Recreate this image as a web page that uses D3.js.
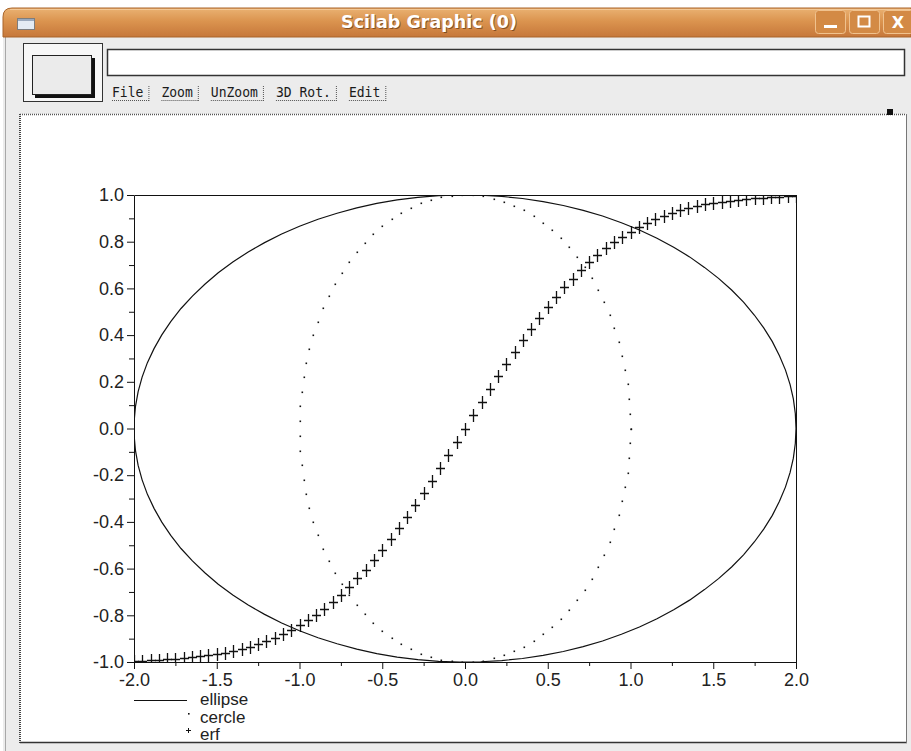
<!DOCTYPE html>
<html>
<head>
<meta charset="utf-8">
<script src="https://cdn.jsdelivr.net/npm/d3@7"></script>
<style>
body { margin: 0; background: #fff; }
svg { display: block; }
</style>
</head>
<body>
<div class="canvas"></div>
<script>
// data
const cercleX = [1.000, 0.998, 0.992, 0.982, 0.968, 0.950, 0.928, 0.903, 0.874, 0.841,
  0.805, 0.766, 0.724, 0.679, 0.631, 0.580, 0.527, 0.472, 0.415, 0.357,
  0.297, 0.236, 0.174, 0.111, 0.048, -0.016, -0.079, -0.142, -0.205, -0.266,
  -0.327, -0.386, -0.444, -0.500, -0.554, -0.606, -0.655, -0.701, -0.745, -0.786,
  -0.824, -0.858, -0.889, -0.916, -0.940, -0.959, -0.975, -0.987, -0.995, -0.999,
  -0.999, -0.995, -0.987, -0.975, -0.959, -0.940, -0.916, -0.889, -0.858, -0.824,
  -0.786, -0.745, -0.701, -0.655, -0.606, -0.554, -0.500, -0.444, -0.386, -0.327,
  -0.266, -0.205, -0.142, -0.079, -0.016, 0.048, 0.111, 0.174, 0.236, 0.297,
  0.357, 0.415, 0.472, 0.527, 0.580, 0.631, 0.679, 0.724, 0.766, 0.805,
  0.841, 0.874, 0.903, 0.928, 0.950, 0.968, 0.982, 0.992, 0.998, 1.000];
const cercleY = [0.000, 0.063, 0.127, 0.189, 0.251, 0.312, 0.372, 0.430, 0.486, 0.541,
  0.593, 0.643, 0.690, 0.735, 0.776, 0.815, 0.850, 0.881, 0.910, 0.934,
  0.955, 0.972, 0.985, 0.994, 0.999, 1.000, 0.997, 0.990, 0.979, 0.964,
  0.945, 0.922, 0.896, 0.866, 0.833, 0.796, 0.756, 0.713, 0.667, 0.618,
  0.567, 0.514, 0.458, 0.401, 0.342, 0.282, 0.220, 0.158, 0.095, 0.032,
  -0.032, -0.095, -0.158, -0.220, -0.282, -0.342, -0.401, -0.458, -0.514, -0.567,
  -0.618, -0.667, -0.713, -0.756, -0.796, -0.833, -0.866, -0.896, -0.922, -0.945,
  -0.964, -0.979, -0.990, -0.997, -1.000, -0.999, -0.994, -0.985, -0.972, -0.955,
  -0.934, -0.910, -0.881, -0.850, -0.815, -0.776, -0.735, -0.690, -0.643, -0.593,
  -0.541, -0.486, -0.430, -0.372, -0.312, -0.251, -0.189, -0.127, -0.063, 0.000];
const ellipseX = [2.000, 1.996, 1.984, 1.964, 1.936, 1.900, 1.857, 1.806, 1.748, 1.683,
  1.611, 1.532, 1.447, 1.357, 1.261, 1.160, 1.054, 0.945, 0.831, 0.714,
  0.594, 0.472, 0.347, 0.222, 0.095, -0.032, -0.159, -0.285, -0.410, -0.533,
  -0.654, -0.773, -0.888, -1.000, -1.108, -1.211, -1.310, -1.403, -1.491, -1.572,
  -1.647, -1.716, -1.778, -1.832, -1.879, -1.919, -1.951, -1.975, -1.991, -1.999,
  -1.999, -1.991, -1.975, -1.951, -1.919, -1.879, -1.832, -1.778, -1.716, -1.647,
  -1.572, -1.491, -1.403, -1.310, -1.211, -1.108, -1.000, -0.888, -0.773, -0.654,
  -0.533, -0.410, -0.285, -0.159, -0.032, 0.095, 0.222, 0.347, 0.472, 0.594,
  0.714, 0.831, 0.945, 1.054, 1.160, 1.261, 1.357, 1.447, 1.532, 1.611,
  1.683, 1.748, 1.806, 1.857, 1.900, 1.936, 1.964, 1.984, 1.996, 2.000];
const ellipseY = cercleY;
const erfX = [-2.00, -1.95, -1.90, -1.85, -1.80, -1.75, -1.70, -1.65, -1.60, -1.55,
  -1.50, -1.45, -1.40, -1.35, -1.30, -1.25, -1.20, -1.15, -1.10, -1.05,
  -1.00, -0.95, -0.90, -0.85, -0.80, -0.75, -0.70, -0.65, -0.60, -0.55,
  -0.50, -0.45, -0.40, -0.35, -0.30, -0.25, -0.20, -0.15, -0.10, -0.05,
  0.00, 0.05, 0.10, 0.15, 0.20, 0.25, 0.30, 0.35, 0.40, 0.45,
  0.50, 0.55, 0.60, 0.65, 0.70, 0.75, 0.80, 0.85, 0.90, 0.95,
  1.00, 1.05, 1.10, 1.15, 1.20, 1.25, 1.30, 1.35, 1.40, 1.45,
  1.50, 1.55, 1.60, 1.65, 1.70, 1.75, 1.80, 1.85, 1.90, 1.95, 2.00];
const erfY = [-0.995, -0.994, -0.993, -0.991, -0.989, -0.987, -0.984, -0.980, -0.976, -0.972,
  -0.966, -0.960, -0.952, -0.944, -0.934, -0.923, -0.910, -0.896, -0.880, -0.862,
  -0.843, -0.821, -0.797, -0.771, -0.742, -0.711, -0.678, -0.642, -0.604, -0.563,
  -0.520, -0.475, -0.428, -0.379, -0.329, -0.276, -0.223, -0.168, -0.112, -0.056,
  0.000, 0.056, 0.112, 0.168, 0.223, 0.276, 0.329, 0.379, 0.428, 0.475,
  0.520, 0.563, 0.604, 0.642, 0.678, 0.711, 0.742, 0.771, 0.797, 0.821,
  0.843, 0.862, 0.880, 0.896, 0.910, 0.923, 0.934, 0.944, 0.952, 0.960,
  0.966, 0.972, 0.976, 0.980, 0.984, 0.987, 0.989, 0.991, 0.993, 0.994, 0.995];

const xTicks = [-2, -1.5, -1, -0.5, 0, 0.5, 1, 1.5, 2];
const xMinor = [-1.75, -1.25, -0.75, -0.25, 0.25, 0.75, 1.25, 1.75];
const yTicks = [-1, -0.8, -0.6, -0.4, -0.2, 0, 0.2, 0.4, 0.6, 0.8, 1];
const yMinor = [-0.9, -0.7, -0.5, -0.3, -0.1, 0.1, 0.3, 0.5, 0.7, 0.9];
const legendLabels = ['ellipse', 'cercle', 'erf'];
const menuLabels = ['File', 'Zoom', 'UnZoom', '3D Rot.', 'Edit'];
const windowTitle = 'Scilab Graphic (0)';

const svg = d3.select('.canvas').append('svg')
    .attr('width', 911)
    .attr('height', 751);

const defs = svg.append('defs');
const grad = defs.append('linearGradient')
    .attr('id', 'titlebar')
    .attr('x1', 0).attr('y1', 0).attr('x2', 0).attr('y2', 1);
grad.append('stop').attr('offset', '0%').attr('stop-color', '#eab273');
grad.append('stop').attr('offset', '45%').attr('stop-color', '#db944f');
grad.append('stop').attr('offset', '100%').attr('stop-color', '#c6773a');

defs.append('clipPath').attr('id', 'plotclip')
  .append('rect')
    .attr('x', 134).attr('y', 195)
    .attr('width', 663).attr('height', 468);

// ---- window frame ----
svg.append('rect')
    .attr('x', 3).attr('y', 36)
    .attr('width', 908).attr('height', 715)
    .attr('fill', '#ececec');
svg.append('line')
    .attr('x1', 5.5).attr('y1', 37).attr('x2', 5.5).attr('y2', 751)
    .attr('stroke', '#a8a8a8');

svg.append('path')
    .attr('d', 'M3,37V17Q3,8 12,8H911V37Z')
    .attr('fill', 'url(#titlebar)')
    .attr('stroke', '#a9652b')
    .attr('stroke-width', 1);
svg.append('line')
    .attr('x1', 10).attr('y1', 9.5).attr('x2', 911).attr('y2', 9.5)
    .attr('stroke', '#f3c896');

// window icon
svg.append('rect')
    .attr('x', 17.5).attr('y', 18.5).attr('width', 17).attr('height', 11)
    .attr('fill', '#e4ebf3').attr('stroke', '#7d7d7d');
svg.append('rect')
    .attr('x', 18).attr('y', 19).attr('width', 16).attr('height', 2)
    .attr('fill', '#9aa9bd');

svg.append('text')
    .attr('x', 430).attr('y', 29)
    .attr('text-anchor', 'middle')
    .attr('fill', '#5e3310')
    .attr('opacity', 0.65)
    .style('font-family', 'DejaVu Sans')
    .style('font-size', '17.5px')
    .style('font-weight', 'bold')
    .text(windowTitle);
svg.append('text')
    .attr('x', 429).attr('y', 28)
    .attr('text-anchor', 'middle')
    .attr('fill', '#ffffff')
    .style('font-family', 'DejaVu Sans')
    .style('font-size', '17.5px')
    .style('font-weight', 'bold')
    .text(windowTitle);

// min / max / close buttons
const btns = [815, 849, 883];
btns.forEach(function (bx) {
  svg.append('rect')
      .attr('x', bx + 0.5).attr('y', 10.5)
      .attr('width', 30).attr('height', 23)
      .attr('rx', 3)
      .attr('fill', '#d38a45')
      .attr('stroke', '#f0c28e');
});
svg.append('rect')
    .attr('x', 824).attr('y', 25).attr('width', 13).attr('height', 3)
    .attr('fill', '#fff');
svg.append('rect')
    .attr('x', 858.5).attr('y', 16.5).attr('width', 11).attr('height', 10)
    .attr('fill', 'none').attr('stroke', '#fff').attr('stroke-width', 2);
svg.append('text')
    .attr('x', 898).attr('y', 28)
    .attr('text-anchor', 'middle')
    .attr('fill', '#fff')
    .style('font-family', 'DejaVu Sans')
    .style('font-size', '16px')
    .style('font-weight', 'bold')
    .text('X');

// ---- toolbar ----
svg.append('rect')
    .attr('x', 23.5).attr('y', 43.5).attr('width', 79).attr('height', 58)
    .attr('fill', '#f7f7f7').attr('stroke', '#333');
svg.append('rect')
    .attr('x', 35).attr('y', 58).attr('width', 60).attr('height', 40)
    .attr('fill', '#111');
svg.append('rect')
    .attr('x', 32.5).attr('y', 55.5).attr('width', 59).attr('height', 39)
    .attr('fill', '#ebebeb').attr('stroke', '#222');
svg.append('rect')
    .attr('x', 107.5).attr('y', 49.5).attr('width', 797).attr('height', 26)
    .attr('fill', '#fff').attr('stroke', '#333').attr('stroke-width', 1.5);

let mx = 112;
menuLabels.forEach(function (m) {
  const t = svg.append('text')
      .attr('transform', 'translate(' + mx + ',97) scale(0.9,1)')
      .attr('fill', '#1a1a1a')
      .style('font-family', 'DejaVu Sans Mono')
      .style('font-size', '14.5px')
      .text(m);
  const w = t.node().getComputedTextLength() * 0.9;
  svg.append('line')
      .attr('x1', mx).attr('y1', 100.5).attr('x2', mx + w + 6).attr('y2', 100.5)
      .attr('stroke', '#555').attr('stroke-dasharray', '1,1');
  svg.append('line')
      .attr('x1', mx + w + 5.5).attr('y1', 86).attr('x2', mx + w + 5.5).attr('y2', 101)
      .attr('stroke', '#555').attr('stroke-dasharray', '1,1');
  mx += w + 18;
});

// ---- graphic canvas ----
svg.append('rect')
    .attr('x', 20).attr('y', 114).attr('width', 886).attr('height', 629)
    .attr('fill', '#fff');
svg.append('line')
    .attr('x1', 20).attr('y1', 114.5).attr('x2', 906).attr('y2', 114.5)
    .attr('stroke', '#555').attr('stroke-width', 1.5).attr('stroke-dasharray', '1,1');
svg.append('line')
    .attr('x1', 20).attr('y1', 114).attr('x2', 20).attr('y2', 743)
    .attr('stroke', '#444').attr('stroke-width', 2).attr('stroke-dasharray', '1,1');
svg.append('line')
    .attr('x1', 20).attr('y1', 742.5).attr('x2', 907).attr('y2', 742.5)
    .attr('stroke', '#333').attr('stroke-width', 1.5);
svg.append('line')
    .attr('x1', 906.5).attr('y1', 114).attr('x2', 906.5).attr('y2', 743)
    .attr('stroke', '#777');
svg.append('rect')
    .attr('x', 887).attr('y', 109).attr('width', 6).attr('height', 6)
    .attr('fill', '#111');

// ---- plot ----
const x = d3.scaleLinear().domain([-2, 2]).range([134, 796]);
const y = d3.scaleLinear().domain([-1, 1]).range([662, 195]);

const fmt = d => d.toFixed(1);
const labelFont = function (g) {
  g.selectAll('text')
      .style('font-family', 'Liberation Sans, Arial, sans-serif')
      .style('font-size', '18px')
      .attr('fill', '#222');
  g.selectAll('line').attr('stroke', '#111');
  g.select('.domain').attr('stroke', '#111');
};

svg.append('g')
    .attr('transform', 'translate(0,662)')
    .call(d3.axisBottom(x).tickValues(xMinor).tickSize(4).tickSizeOuter(0).tickFormat(''))
    .call(g => g.select('.domain').remove())
    .call(g => g.selectAll('line').attr('stroke', '#111'));
svg.append('g')
    .attr('transform', 'translate(0,662)')
    .call(d3.axisBottom(x).tickValues(xTicks).tickSize(7).tickSizeOuter(0).tickPadding(4).tickFormat(fmt))
    .call(labelFont);

svg.append('g')
    .attr('transform', 'translate(134,0)')
    .call(d3.axisLeft(y).tickValues(yMinor).tickSize(5).tickSizeOuter(0).tickFormat(''))
    .call(g => g.select('.domain').remove())
    .call(g => g.selectAll('line').attr('stroke', '#111'));
svg.append('g')
    .attr('transform', 'translate(134,0)')
    .call(d3.axisLeft(y).tickValues(yTicks).tickSize(7).tickSizeOuter(0).tickPadding(3).tickFormat(fmt))
    .call(labelFont);

// box top / right
svg.append('line')
    .attr('x1', x(-2) + 0.5).attr('x2', x(2) + 0.5)
    .attr('y1', y(1) + 0.5).attr('y2', y(1) + 0.5)
    .attr('stroke', '#111');
svg.append('line')
    .attr('x1', x(2) + 0.5).attr('x2', x(2) + 0.5)
    .attr('y1', y(1) + 0.5).attr('y2', y(-1) + 0.5)
    .attr('stroke', '#111');

const plot = svg.append('g').attr('clip-path', 'url(#plotclip)');

const line = d3.line()
    .x(d => x(d[0]))
    .y(d => y(d[1]));

plot.append('path')
    .datum(d3.zip(ellipseX, ellipseY))
    .attr('d', line)
    .attr('fill', 'none')
    .attr('stroke', '#111')
    .attr('stroke-width', 1.2);

plot.selectAll('.cdot')
  .data(d3.zip(cercleX, cercleY))
  .join('rect')
    .attr('class', 'cdot')
    .attr('x', d => Math.round(x(d[0])) - 0.5)
    .attr('y', d => Math.round(y(d[1])) - 0.5)
    .attr('width', 1.6)
    .attr('height', 1.6)
    .attr('fill', '#111');

const plus = (w, h) => 'M' + (-w) + ',0H' + w + 'M0,' + (-h) + 'V' + h;

plot.selectAll('.erfmark')
  .data(d3.zip(erfX, erfY))
  .join('path')
    .attr('class', 'erfmark')
    .attr('transform', d => 'translate(' + (Math.round(x(d[0])) + 0.5) + ',' + (Math.round(y(d[1])) + 0.5) + ')')
    .attr('d', plus(4.5, 6.5))
    .attr('fill', 'none')
    .attr('stroke', '#111')
    .attr('stroke-width', 1.3);

// ---- legend ----
const legend = svg.append('g');
legend.append('line')
    .attr('x1', 134).attr('x2', 187)
    .attr('y1', 700.5).attr('y2', 700.5)
    .attr('stroke', '#111');
legend.append('rect')
    .attr('x', 188).attr('y', 713).attr('width', 1.6).attr('height', 1.6)
    .attr('fill', '#111');
legend.append('path')
    .attr('transform', 'translate(188.5,730.5)')
    .attr('d', plus(2.5, 2.5))
    .attr('stroke', '#111');
legend.selectAll('text')
  .data(legendLabels)
  .join('text')
    .attr('x', 200)
    .attr('y', (d, i) => 705 + i * 17.5)
    .attr('fill', '#222')
    .style('font-family', 'Liberation Sans, Arial, sans-serif')
    .style('font-size', '17px')
    .text(d => d);
</script>
</body>
</html>
